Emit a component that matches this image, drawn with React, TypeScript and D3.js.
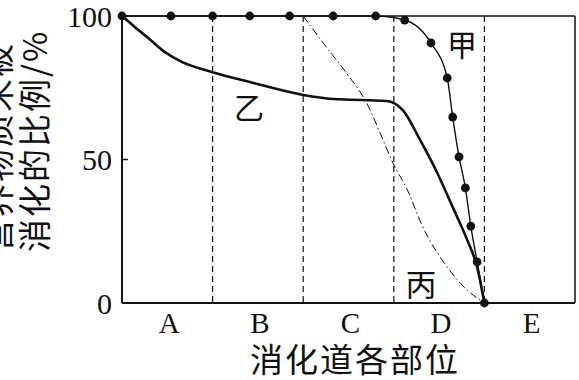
import React from "react";
import * as d3 from "d3";

const categories = ["A", "B", "C", "D", "E"];
const boundaries = [1, 2, 3, 4];
const yTicks = [0, 50, 100];

// 甲 (with dots)
const jiaX = [0, 0.54, 1.0, 1.41, 1.85, 2.33, 2.8, 3.12, 3.41, 3.59, 3.65, 3.72, 3.79, 3.85, 3.92, 4.0];
const jiaY = [100, 100, 100, 100, 100, 100, 100, 98.6, 90.6, 78.4, 64.8, 50.9, 40.1, 26.8, 14.3, 0];

// 乙 (thick solid)
const yiX = [0, 0.14, 0.29, 0.47, 0.66, 0.99, 1.41, 2.0, 2.33, 2.92, 3.1, 3.29, 3.48, 3.65, 3.81, 3.92, 4.0];
const yiY = [100, 96.2, 92.3, 87.5, 84, 80.5, 77, 72.5, 71.1, 70.4, 67.2, 56.8, 45.3, 33.4, 22, 12.5, 0];

// 丙 (dash-dot)
const bingX = [2.0, 2.22, 2.48, 2.7, 2.85, 2.99, 3.15, 3.32, 3.59, 3.81, 4.0];
const bingY = [100, 90.6, 80, 69.7, 59.2, 48.8, 39.4, 26.5, 12.5, 4.5, 0];

const yLabelLines = ["营养物质未被", "消化的比例/%"];
const xTitle = "消化道各部位";

const W = 579, H = 380;
const L = 122, R = 575, T = 16, B = 303;
const serif = "'Liberation Serif', 'DejaVu Serif', serif";
const cjk = "'Noto Sans CJK SC', sans-serif";
const ink = "#111";

export default function App() {
  const x = d3.scaleLinear().domain([0, 5]).range([L, R]);
  const y = d3.scaleLinear().domain([0, 100]).range([B, T]);
  const line = d3.line<[number, number]>().x(d => x(d[0])).y(d => y(d[1])).curve(d3.curveMonotoneX);
  const jia = jiaX.map((v, i) => [v, jiaY[i]] as [number, number]);
  const yi = yiX.map((v, i) => [v, yiY[i]] as [number, number]);
  const bing = bingX.map((v, i) => [v, bingY[i]] as [number, number]);

  return (
    <svg width={W} height={H} style={{ position: "absolute", left: 0, top: 0, background: "#fff" }}>
      {boundaries.map(b => (
        <line key={b} x1={x(b)} x2={x(b)} y1={y(100)} y2={y(0)} stroke={ink} strokeWidth={1.2} strokeDasharray="6,4" />
      ))}
      <line x1={L} x2={R} y1={y(100)} y2={y(100)} stroke={ink} strokeWidth={1.5} />
      <line x1={R} x2={R} y1={y(100)} y2={y(0)} stroke={ink} strokeWidth={1.5} />
      <line x1={L} x2={R} y1={y(0)} y2={y(0)} stroke={ink} strokeWidth={2} />
      <line x1={L} x2={L} y1={y(100)} y2={y(0)} stroke={ink} strokeWidth={2} />
      {yTicks.map(t => (
        <g key={t}>
          <line x1={L} x2={L + 6} y1={y(t)} y2={y(t)} stroke={ink} strokeWidth={1.5} />
          <text x={L - 10} y={y(t)} textAnchor="end" dominantBaseline="central" fontFamily={serif} fontSize={30} fill={ink}>{t}</text>
        </g>
      ))}
      {categories.map((c, i) => (
        <text key={c} x={x(i + 0.5) + 2} y={323} textAnchor="middle" dominantBaseline="central" fontFamily={serif} fontSize={29} fill={ink}>{c}</text>
      ))}
      <text x={355} y={358} textAnchor="middle" dominantBaseline="central" fontFamily={cjk} fontSize={33} letterSpacing={2} fill={ink}>{xTitle}</text>
      {yLabelLines.map((s, i) => (
        <text key={i} transform={`translate(${-4 + i * 37},252) rotate(-90)`} textAnchor="start" dominantBaseline="central" fontFamily={cjk} fontSize={33} letterSpacing={2} fill={ink}>{s}</text>
      ))}
      <path d={line(bing) || ""} fill="none" stroke={ink} strokeWidth={1} strokeDasharray="8,3,1.5,3" />
      <path d={line(yi) || ""} fill="none" stroke={ink} strokeWidth={2.6} />
      <path d={line(jia) || ""} fill="none" stroke={ink} strokeWidth={1.4} />
      {jia.map((p, i) => (
        <circle key={i} cx={x(p[0])} cy={y(p[1])} r={4.4} fill={ink} />
      ))}
      <text x={462} y={43} textAnchor="middle" dominantBaseline="central" fontFamily={cjk} fontSize={30} fill={ink}>甲</text>
      <text x={249} y={106} textAnchor="middle" dominantBaseline="central" fontFamily={cjk} fontSize={30} fill={ink}>乙</text>
      <text x={421} y={282} textAnchor="middle" dominantBaseline="central" fontFamily={cjk} fontSize={31} fill={ink}>丙</text>
    </svg>
  );
}
